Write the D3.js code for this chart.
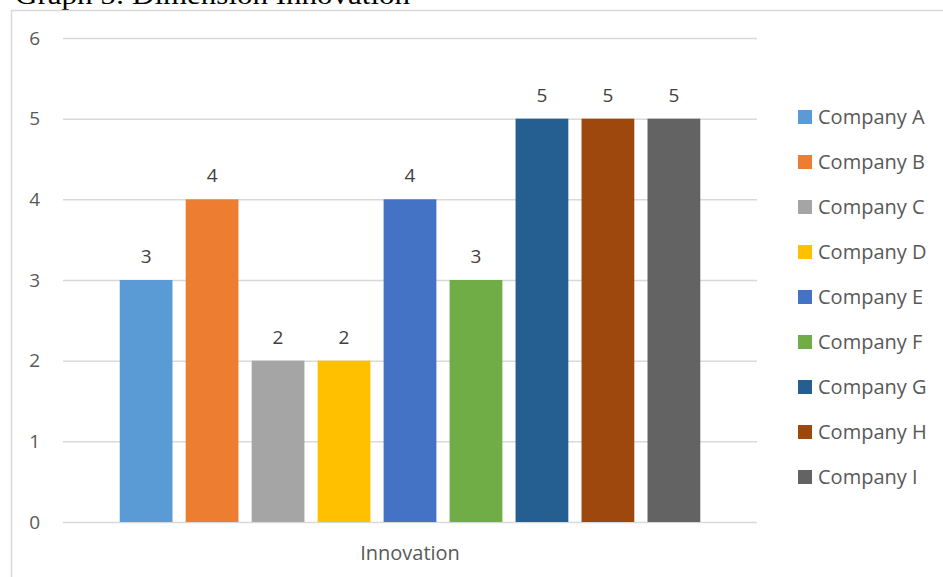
<!DOCTYPE html>
<html><head><meta charset="utf-8">
<script src="https://cdn.jsdelivr.net/npm/d3@7"></script>
<style>body{margin:0;background:#fff}svg{display:block}</style>
</head><body>
<svg id="c" width="943" height="577"></svg>
<script>
const categories = ["Innovation"];
const companies = ["Company A","Company B","Company C","Company D","Company E","Company F","Company G","Company H","Company I"];
const values = [3,4,2,2,4,3,5,5,5];
const colors = ["#5b9bd5","#ed7d31","#a5a5a5","#ffc000","#4472c4","#70ad47","#255e91","#9e480e","#636363"];
const yTicks = [0,1,2,3,4,5,6];
const title = "Graph 5: Dimension Innovation";

const svg = d3.select("#c");
const font = "'Open Sans', sans-serif";
const W = 943, H = 577;
const plot = {l:63, r:757, t:38, b:522};

// title (cut off at top, as in the source)
svg.append("text").attr("x",15).attr("y",4)
  .attr("font-family","'Liberation Serif', 'Times New Roman', serif")
  .attr("font-size",28).attr("fill","#000").attr("textLength",395).attr("lengthAdjust","spacingAndGlyphs")
  .text(title);

// chart border
svg.append("rect").attr("x",11.5).attr("y",10.5).attr("width",W).attr("height",H)
  .attr("fill","none").attr("stroke","#d9d9d9").attr("stroke-width",1.5);

const y = d3.scaleLinear().domain([0,6]).range([plot.b, plot.t]);
const x0 = d3.scaleBand().domain(categories).range([plot.l, plot.r]).paddingOuter(0.0717).paddingInner(0);
const x1 = d3.scaleBand().domain(companies).range([0, x0.bandwidth()]).padding(0.2);

// gridlines
svg.append("g").selectAll("line").data(yTicks).join("line")
  .attr("x1",plot.l).attr("x2",plot.r)
  .attr("y1",d=>y(d)+0.5).attr("y2",d=>y(d)+0.5)
  .attr("stroke","#d9d9d9").attr("stroke-width",1.5);

// y axis labels
const yAxis = d3.axisLeft(y).tickValues(yTicks).tickFormat(d3.format("d")).tickSize(0).tickPadding(0);
const ga = svg.append("g").attr("transform",`translate(40,0)`).call(yAxis);
ga.select(".domain").remove();
ga.selectAll("text").attr("font-family",font).attr("font-size",19).attr("fill","#595959");

// bars
const g = svg.append("g").attr("transform",`translate(${x0(categories[0])},0)`);
g.selectAll("rect").data(values).join("rect")
  .attr("x",(d,i)=>x1(companies[i]))
  .attr("width",x1.bandwidth())
  .attr("y",d=>y(d))
  .attr("height",d=>y(0)-y(d))
  .attr("fill",(d,i)=>colors[i]);
g.selectAll("text").data(values).join("text")
  .attr("x",(d,i)=>x1(companies[i])+x1.bandwidth()/2)
  .attr("y",d=>y(d)-17)
  .attr("text-anchor","middle")
  .attr("font-family",font).attr("font-size",19).attr("fill","#404040")
  .text(d=>d);

// x axis label
const xAxis = d3.axisBottom(x0).tickSize(0).tickPadding(0);
const gx = svg.append("g").attr("transform",`translate(0,${plot.b+24})`).call(xAxis);
gx.select(".domain").remove();
gx.selectAll("text").attr("font-family",font).attr("font-size",20).attr("fill","#595959");

// legend
const lg = svg.append("g");
const items = lg.selectAll("g").data(companies).join("g")
  .attr("transform",(d,i)=>`translate(798,${110+i*45})`);
items.append("rect").attr("width",14).attr("height",14).attr("fill",(d,i)=>colors[i]);
items.append("text").attr("x",20).attr("y",14)
  .attr("font-family",font).attr("font-size",20).attr("fill","#595959").text(d=>d);
</script>
</body></html>
